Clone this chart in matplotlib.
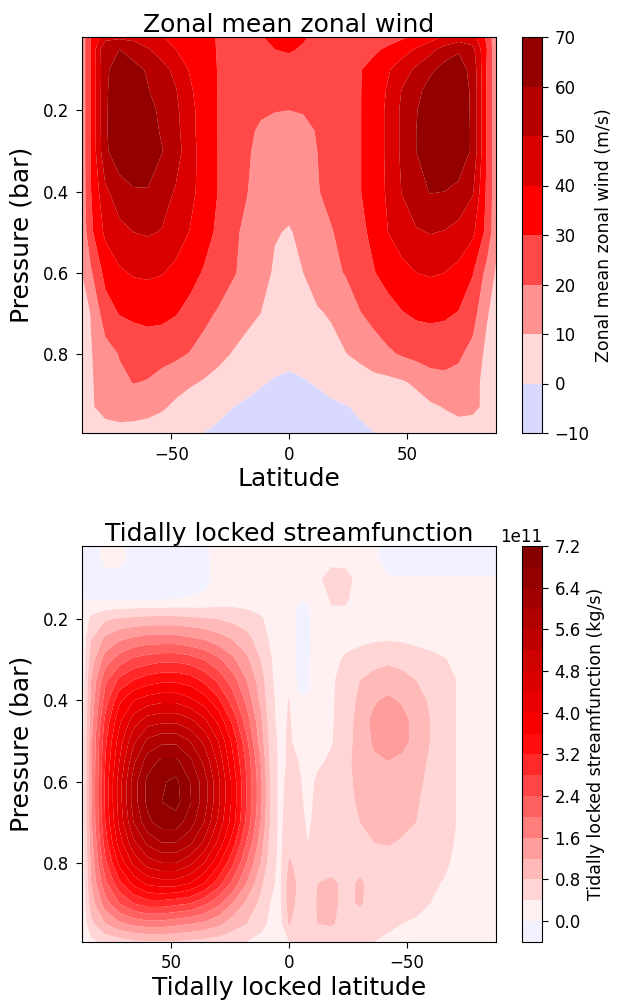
import numpy as np
import matplotlib
matplotlib.use("Agg")
import matplotlib.pyplot as plt
from matplotlib.colors import Normalize

# ---------------- Panel 1: zonal mean zonal wind (m/s) ----------------
lat = [-87.86, -84, -78, -72, -66, -60, -54, -48, -42, -36, -30, -24, -18, -12, -6,
       0, 6, 12, 18, 24, 30, 36, 42, 48, 54, 60, 66, 72, 78, 84, 87.86]
pres = [0.0194, 0.05, 0.1, 0.15, 0.2, 0.25, 0.3, 0.4, 0.5, 0.6, 0.7, 0.8, 0.87, 0.93, 0.9946]
u_wind = [
    [14, 31, 46, 48, 47, 44, 40.5, 37, 34, 32, 29.5, 27.5, 27, 29.5, 32, 33, 31, 28, 26, 25, 25, 25.5, 26.5, 28.5, 31.5, 36, 41, 44, 44, 28, 12],
    [14, 31, 59, 60, 56, 51, 45, 40, 36, 32.5, 29.5, 27.5, 27, 28, 30, 31, 29, 26.5, 25.5, 25.5, 26.5, 28.5, 31.5, 36, 41, 47, 54, 59, 53, 30, 13],
    [14, 31, 58, 65, 63, 59, 54, 47, 39, 33, 29.7, 27.5, 26, 25.5, 25.5, 26, 25.5, 25, 25.5, 27, 29.5, 33, 39, 45, 52, 58, 64, 64, 57, 29, 14],
    [14, 31, 58.5, 66, 65, 60.5, 56, 50.5, 41.5, 34, 29.7, 26.5, 24.5, 23.5, 23, 23, 23, 23.5, 24.5, 26.5, 29.5, 34, 41, 50.5, 57, 64, 67, 66, 58, 29, 14],
    [14, 31, 58.5, 67, 67, 63, 58, 52, 43, 35, 29.7, 26, 23, 21, 20.3, 20, 20.5, 21.5, 23, 26, 29.5, 34.5, 42, 52, 59.5, 65, 68, 67, 58, 29, 14],
    [14, 31, 58.5, 68, 68, 64, 59, 53, 43, 35, 29.7, 25.5, 21.5, 19, 17.5, 17, 18, 20.5, 23, 26, 29.5, 34.5, 42, 52, 60, 66, 69, 68, 58, 29, 14],
    [14, 31, 58, 67, 68, 65, 60.5, 54, 44, 35.5, 29.7, 25.5, 21, 18, 16, 15.5, 16.5, 20, 23, 26, 29.5, 34.5, 42, 52, 60, 66.5, 69, 68, 58, 29, 14],
    [14, 30, 48, 55, 59, 59.5, 54.5, 49, 43, 35.5, 29.7, 25, 20.5, 15.5, 13, 12.5, 13.5, 19.5, 22.5, 25.5, 29.5, 34.5, 41.5, 50.5, 57, 60.5, 60, 57, 51, 28, 14],
    [13, 28, 42, 47.5, 50, 51, 49.5, 45, 39.5, 34, 28, 22, 18, 14, 10.5, 9.5, 11.5, 16, 19.5, 23, 27.5, 32.5, 40, 45, 49, 50.5, 49.5, 47, 42, 27, 13],
    [10, 19, 33, 38.5, 41, 41.5, 40.5, 37.5, 33.5, 29, 25.5, 21, 17.5, 13, 9, 7.5, 10, 14.5, 18, 20.5, 25, 29.5, 33.5, 37, 40, 41, 40, 37, 30.5, 17, 9],
    [6, 10.5, 25.5, 30.5, 32, 33, 32.5, 30.5, 27, 22.5, 19, 16, 12.5, 10, 7, 6, 7.5, 9, 11, 15, 19.5, 23, 26.5, 29.5, 31.5, 32, 31.5, 29.5, 24, 11, 6],
    [4, 9.5, 16, 20.5, 23, 24, 23.5, 22, 19.5, 16.5, 13, 9.5, 7, 4, 2, 1.5, 2.5, 4.5, 7, 9.7, 12.5, 15.5, 18.5, 21, 23, 24, 23.5, 21.5, 17, 7.5, 3],
    [4, 9, 15, 18, 20.3, 19.5, 16.5, 14, 11.5, 9, 6.5, 4, 2, 0.5, -0.5, -1, -0.5, 0.5, 2, 3.5, 5, 7, 7.5, 9, 11.5, 16, 17.5, 17, 14, 6, 2.5],
    [4, 9, 13.5, 15, 15, 14, 11.5, 8, 4.5, 2.5, 1.2, 0.1, -1, -1.8, -2.5, -3, -2.5, -1.8, -1, -0.3, 0.8, 2, 3.5, 5, 6.5, 8.5, 10.5, 12.5, 12, 8, 4],
    [2, 4.5, 6, 6.5, 6, 5, 4, 2.8, 1.3, -0.05, -0.9, -1.8, -2.6, -3.3, -3.8, -4, -3.8, -3.3, -2.6, -1.8, -0.9, -0.05, 1.2, 2.5, 3.5, 4.5, 5.5, 6, 5.5, 4, 2],
]
u_levels = [-10, 0, 10, 20, 30, 40, 50, 60, 70]

# ---------------- Panel 2: tidally locked streamfunction (1e11 kg/s) ----------------
tl_lat = [87.86, 84, 78, 72, 66, 60, 54, 48, 42, 36, 30, 24, 18, 12, 8, 4, 0,
          -4, -8, -12, -18, -24, -30, -36, -42, -48, -54, -60, -66, -72, -78, -84, -87.86]
tl_pres = [0.0197, 0.05, 0.1, 0.15, 0.2, 0.25, 0.3, 0.35, 0.4, 0.45, 0.5, 0.55,
           0.6, 0.65, 0.7, 0.75, 0.8, 0.85, 0.9, 0.95, 0.9947]
psi_e11 = [
    [-0.1, -0.1, 0.05, 0.05, -0.1, -0.1, -0.1, -0.1, -0.1, -0.05, 0.1, 0.15, 0.15, 0.15, 0.15, 0.1, 0.05, 0.05, 0.1, 0.15, 0.2, 0.2, 0.15, 0.05, -0.1, -0.1, -0.1, -0.1, -0.1, -0.1, -0.1, -0.1, -0.1],
    [-0.1, -0.1, 0.05, 0.05, -0.05, -0.1, -0.1, -0.1, -0.1, -0.05, 0.1, 0.15, 0.15, 0.15, 0.15, 0.1, 0.05, 0.05, 0.1, 0.15, 0.25, 0.25, 0.15, 0.05, -0.1, -0.1, -0.1, -0.1, -0.1, -0.1, -0.1, -0.1, -0.1],
    [-0.15, -0.15, -0.05, -0.05, -0.1, -0.15, -0.15, -0.15, -0.15, -0.1, 0.1, 0.2, 0.2, 0.2, 0.15, 0.1, 0.05, 0.05, 0.1, 0.3, 0.6, 0.55, 0.25, 0.1, 0.02, 0.01, 0.01, 0.01, 0.01, 0.01, 0.01, 0.01, 0.01],
    [0.0, -0.02, -0.03, -0.04, -0.04, -0.03, -0.02, 0.0, 0.03, 0.06, 0.15, 0.2, 0.2, 0.2, 0.15, 0.1, 0.05, 0.01, 0.01, 0.15, 0.45, 0.45, 0.25, 0.15, 0.1, 0.1, 0.1, 0.1, 0.08, 0.06, 0.05, 0.05, 0.05],
    [0.1, 0.5, 0.75, 0.85, 0.9, 0.95, 0.95, 0.95, 0.9, 0.85, 0.8, 0.7, 0.6, 0.45, 0.3, 0.15, 0.1, -0.05, -0.05, 0.15, 0.3, 0.3, 0.25, 0.2, 0.2, 0.2, 0.15, 0.15, 0.12, 0.1, 0.1, 0.08, 0.05],
    [0.1, 0.8, 1.3, 1.55, 1.7, 1.8, 1.8, 1.8, 1.7, 1.6, 1.4, 1.2, 0.95, 0.6, 0.35, 0.15, 0.1, -0.05, -0.05, 0.15, 0.25, 0.3, 0.3, 0.35, 0.38, 0.35, 0.3, 0.28, 0.25, 0.2, 0.12, 0.1, 0.05],
    [0.1, 1.0, 1.8, 2.2, 2.5, 2.6, 2.7, 2.7, 2.6, 2.4, 2.1, 1.7, 1.3, 0.8, 0.45, 0.2, 0.15, -0.05, -0.05, 0.2, 0.3, 0.45, 0.6, 0.7, 0.75, 0.7, 0.6, 0.5, 0.42, 0.32, 0.18, 0.1, 0.05],
    [0.1, 1.2, 2.3, 2.9, 3.2, 3.4, 3.5, 3.5, 3.4, 3.1, 2.7, 2.2, 1.6, 1.0, 0.5, 0.2, 0.25, -0.05, -0.05, 0.22, 0.35, 0.55, 0.8, 0.9, 0.95, 0.9, 0.8, 0.65, 0.5, 0.38, 0.22, 0.1, 0.05],
    [0.1, 1.3, 2.6, 3.5, 4.0, 4.2, 4.3, 4.3, 4.1, 3.8, 3.3, 2.6, 1.9, 1.1, 0.55, 0.25, 0.42, 0.03, 0.02, 0.25, 0.36, 0.55, 0.9, 1.15, 1.3, 1.15, 0.95, 0.75, 0.5, 0.38, 0.22, 0.1, 0.05],
    [0.1, 1.4, 2.9, 3.9, 4.6, 5.0, 5.1, 5.1, 4.9, 4.5, 3.9, 3.1, 2.2, 1.3, 0.6, 0.25, 0.45, 0.2, 0.2, 0.27, 0.37, 0.55, 1.0, 1.3, 1.5, 1.35, 1.05, 0.8, 0.5, 0.38, 0.22, 0.1, 0.05],
    [0.1, 1.5, 3.1, 4.2, 5.1, 5.7, 5.9, 5.9, 5.6, 5.1, 4.4, 3.5, 2.5, 1.4, 0.7, 0.3, 0.45, 0.3, 0.25, 0.3, 0.38, 0.6, 1.0, 1.25, 1.45, 1.35, 1.05, 0.8, 0.5, 0.38, 0.22, 0.1, 0.05],
    [0.1, 1.5, 3.2, 4.4, 5.5, 6.2, 6.5, 6.5, 6.1, 5.5, 4.7, 3.7, 2.7, 1.6, 0.75, 0.3, 0.45, 0.4, 0.3, 0.35, 0.45, 0.7, 0.95, 1.15, 1.2, 1.1, 0.95, 0.75, 0.5, 0.38, 0.22, 0.1, 0.05],
    [0.1, 1.5, 3.3, 4.6, 5.8, 6.5, 6.75, 6.9, 6.4, 5.8, 4.9, 3.9, 2.8, 1.7, 0.8, 0.3, 0.5, 0.45, 0.3, 0.45, 0.55, 0.7, 0.9, 1.0, 1.05, 1.0, 0.9, 0.7, 0.5, 0.38, 0.22, 0.1, 0.05],
    [0.1, 1.5, 3.3, 4.6, 5.8, 6.5, 6.8, 6.95, 6.45, 5.8, 4.9, 3.9, 2.8, 1.7, 0.8, 0.3, 0.55, 0.5, 0.3, 0.5, 0.55, 0.7, 0.85, 0.95, 1.0, 0.95, 0.85, 0.65, 0.5, 0.38, 0.22, 0.1, 0.05],
    [0.1, 1.5, 3.2, 4.5, 5.6, 6.3, 6.6, 6.6, 6.2, 5.6, 4.7, 3.8, 2.7, 1.6, 0.8, 0.3, 0.6, 0.55, 0.35, 0.5, 0.55, 0.65, 0.8, 0.9, 0.9, 0.85, 0.8, 0.65, 0.5, 0.38, 0.22, 0.1, 0.05],
    [0.1, 1.4, 3.0, 4.2, 5.1, 5.7, 6.0, 6.0, 5.7, 5.1, 4.3, 3.4, 2.4, 1.4, 0.7, 0.3, 0.7, 0.6, 0.4, 0.5, 0.55, 0.65, 0.75, 0.8, 0.82, 0.78, 0.7, 0.6, 0.48, 0.36, 0.2, 0.1, 0.05],
    [0.1, 1.3, 2.7, 3.7, 4.5, 5.0, 5.2, 5.2, 4.9, 4.4, 3.7, 2.9, 2.0, 1.2, 0.6, 0.3, 0.85, 0.7, 0.4, 0.55, 0.6, 0.65, 0.7, 0.75, 0.7, 0.65, 0.6, 0.52, 0.45, 0.32, 0.2, 0.1, 0.05],
    [0.1, 1.2, 2.3, 3.1, 3.7, 4.1, 4.2, 4.2, 4.0, 3.6, 3.0, 2.3, 1.6, 0.9, 0.5, 0.3, 1.0, 0.75, 0.45, 0.8, 0.9, 0.7, 0.85, 0.7, 0.7, 0.65, 0.55, 0.45, 0.38, 0.3, 0.2, 0.1, 0.05],
    [0.1, 1.0, 1.8, 2.4, 2.8, 3.0, 3.0, 2.9, 2.8, 2.5, 2.1, 1.6, 1.1, 0.7, 0.4, 0.3, 1.0, 0.7, 0.45, 0.85, 0.9, 0.7, 0.85, 0.65, 0.65, 0.6, 0.5, 0.4, 0.35, 0.25, 0.2, 0.1, 0.05],
    [0.1, 0.7, 1.2, 1.5, 1.7, 1.8, 1.8, 1.7, 1.6, 1.5, 1.3, 1.0, 0.8, 0.5, 0.35, 0.25, 0.85, 0.6, 0.45, 0.8, 0.85, 0.65, 0.55, 0.5, 0.45, 0.4, 0.35, 0.3, 0.25, 0.2, 0.15, 0.1, 0.05],
    [0.05, 0.3, 0.5, 0.6, 0.7, 0.75, 0.75, 0.75, 0.7, 0.65, 0.6, 0.5, 0.4, 0.3, 0.25, 0.2, 0.4, 0.4, 0.4, 0.5, 0.5, 0.45, 0.45, 0.4, 0.35, 0.3, 0.3, 0.25, 0.2, 0.15, 0.1, 0.05, 0.05],
]
psi_scale = 1e11
psi_levels_e11 = [-0.4, 0.0, 0.4, 0.8, 1.2, 1.6, 2.0, 2.4, 2.8, 3.2, 3.6, 4.0,
                  4.4, 4.8, 5.2, 5.6, 6.0, 6.4, 6.8, 7.2]
psi_ticks_e11 = [0.0, 0.8, 1.6, 2.4, 3.2, 4.0, 4.8, 5.6, 6.4, 7.2]

for row in u_wind:
    assert len(row) == len(lat), len(row)
assert len(u_wind) == len(pres)
for i, row in enumerate(psi_e11):
    assert len(row) == len(tl_lat), (i, len(row))
assert len(psi_e11) == len(tl_pres)

W, H = 617, 1006
fig = plt.figure(figsize=(W / 100, H / 100), dpi=100)

def box(x0, y0, x1, y1):
    return [x0 / W, 1 - y1 / H, (x1 - x0) / W, (y1 - y0) / H]

TICK = 12
LAB = 18
CBLAB = 12.5
TLEN = 4.5
TPAD = 4.5

# top panel
ax1 = fig.add_axes(box(82, 37, 496, 433))
cax1 = fig.add_axes(box(522, 37, 542, 433))
cf1 = ax1.contourf(lat, pres, np.array(u_wind), levels=u_levels, cmap="seismic",
                   norm=Normalize(vmin=-70, vmax=70), antialiased=True)
ax1.set_xlim(lat[0], lat[-1])
ax1.set_ylim(pres[-1], pres[0])
ax1.set_xticks([-50, 0, 50])
ax1.set_yticks([0.2, 0.4, 0.6, 0.8])
ax1.tick_params(labelsize=TICK, length=TLEN, pad=TPAD)
ax1.set_title("Zonal mean zonal wind", fontsize=LAB, pad=3.5)
ax1.set_xlabel("Latitude", fontsize=LAB, labelpad=2.5)
ax1.set_ylabel("Pressure (bar)", fontsize=LAB, labelpad=7)
cb1 = fig.colorbar(cf1, cax=cax1, ticks=u_levels)
cb1.ax.tick_params(labelsize=TICK, length=TLEN, pad=TPAD)
cb1.set_label("Zonal mean zonal wind (m/s)", fontsize=CBLAB)

# bottom panel
ax2 = fig.add_axes(box(82, 546, 496, 942))
cax2 = fig.add_axes(box(522, 546, 542, 942))
psi = np.array(psi_e11) * psi_scale
lv = np.array(psi_levels_e11) * psi_scale
cf2 = ax2.contourf(tl_lat, tl_pres, psi, levels=lv, cmap="seismic",
                   norm=Normalize(vmin=-7.2 * psi_scale, vmax=7.2 * psi_scale),
                   antialiased=True)
ax2.set_xlim(87.86, -87.86)
ax2.set_ylim(tl_pres[-1], tl_pres[0])
ax2.set_xticks([50, 0, -50])
ax2.set_yticks([0.2, 0.4, 0.6, 0.8])
ax2.tick_params(labelsize=TICK, length=TLEN, pad=TPAD)
ax2.set_title("Tidally locked streamfunction", fontsize=LAB, pad=3.5)
ax2.set_xlabel("Tidally locked latitude", fontsize=LAB, labelpad=2.5)
ax2.set_ylabel("Pressure (bar)", fontsize=LAB, labelpad=7)
cb2 = fig.colorbar(cf2, cax=cax2, ticks=np.array(psi_ticks_e11) * psi_scale)
cb2.ax.tick_params(labelsize=TICK, length=TLEN, pad=TPAD)
cb2.ax.yaxis.get_offset_text().set_fontsize(TICK)
cb2.set_label("Tidally locked streamfunction (kg/s)", fontsize=CBLAB)

fig.savefig("out.png", dpi=100)
